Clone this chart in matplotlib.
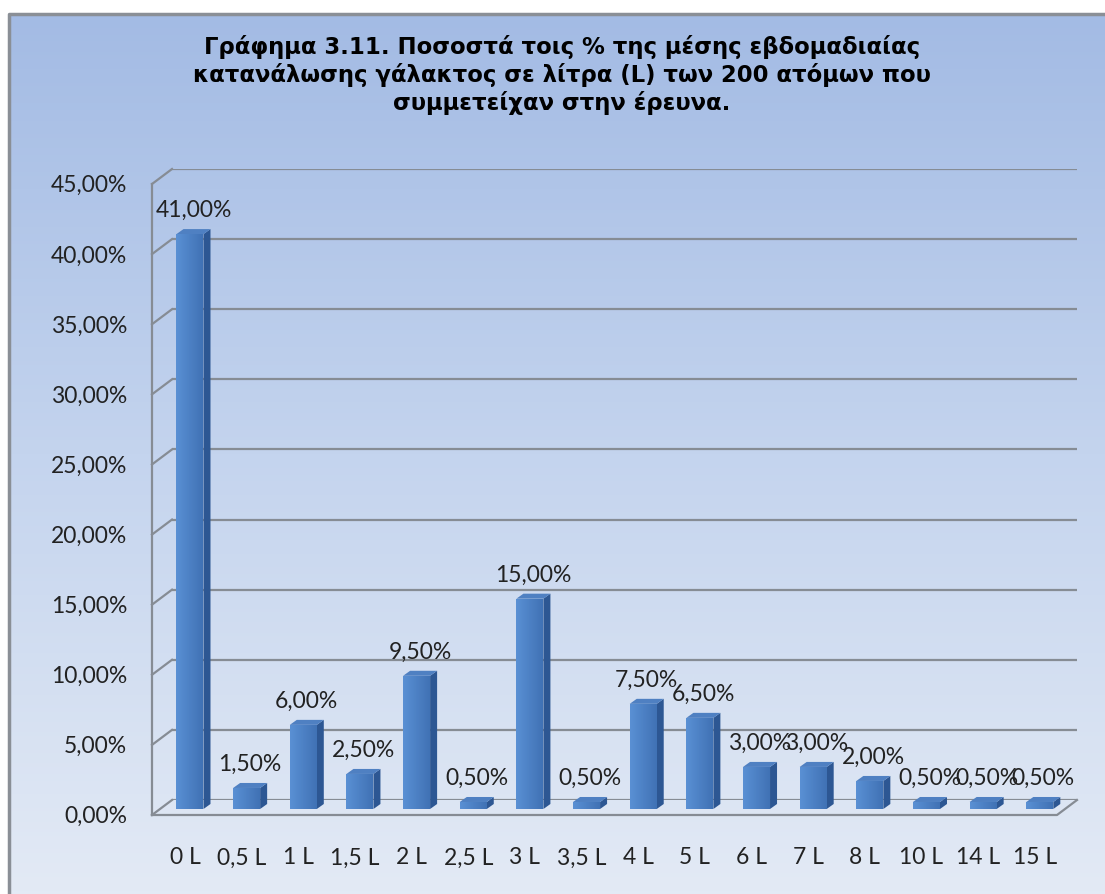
import numpy as np
import matplotlib.pyplot as plt
from matplotlib.patches import Polygon
from matplotlib.colors import LinearSegmentedColormap

# weekly milk consumption (litres) and share of the 200 respondents
categories = ['0 L', '0,5 L', '1 L', '1,5 L', '2 L', '2,5 L', '3 L', '3,5 L',
              '4 L', '5 L', '6 L', '7 L', '8 L', '10 L', '14 L', '15 L']
percentages = [41.0, 1.5, 6.0, 2.5, 9.5, 0.5, 15.0, 0.5,
               7.5, 6.5, 3.0, 3.0, 2.0, 0.5, 0.5, 0.5]
y_ticks = [0, 5, 10, 15, 20, 25, 30, 35, 40, 45]

title_lines = ['Γράφημα 3.11. Ποσοστά τοις % της μέσης εβδομαδιαίας',
               'κατανάλωσης γάλακτος σε λίτρα (L) των 200 ατόμων που',
               'συμμετείχαν στην έρευνα.']

W, H = 1105, 894
fig = plt.figure(figsize=(W / 100, H / 100), dpi=100)
fig.patch.set_facecolor('white')

# chart area background: vertical blue gradient with a grey frame
bg = fig.add_axes([9 / W, 0, 1 - 9 / W, 1 - 14 / H])
bg.set_axis_off()
grad_cmap = LinearSegmentedColormap.from_list('bg', ['#a3bbe4', '#c4d4ee', '#e3eaf5'])
bg.imshow(np.linspace(0, 1, 256).reshape(-1, 1), cmap=grad_cmap, aspect='auto',
          extent=[0, 1, 0, 1])
bg.set_xlim(0, 1)
bg.set_ylim(0, 1)
bg.plot([0, 0, 1], [0, 1, 1], color='#8a8f96', lw=2.5, clip_on=False)

def pct(v):
    return f'{v:.2f}'.replace('.', ',') + '%'

lab_font = dict(fontsize=16.5, family='Lato', color='#222222')

# back wall of the plot area
ax = fig.add_axes([172 / W, 1 - 800 / H, (1077 - 172) / W, (800 - 169) / H])
ax.set_xlim(-0.494, 15.48)
ax.set_ylim(0, 45)
ax.set_axis_off()

x0, x1 = ax.get_xlim()
px_x = (1077 - 172) / (x1 - x0)
px_y = (800 - 169) / 45
DX, DY = 20 / px_x, 15 / px_y          # depth of the floor / side wall
grid_c = '#868c94'

for t in y_ticks:
    ax.plot([x0, x1], [t, t], color=grid_c, lw=1.6, zorder=1)
    ax.plot([x0 - DX, x0], [t - DY, t], color=grid_c, lw=1.6, zorder=1, clip_on=False)
    ax.text(x0 - DX - 25 / px_x, t - 1.2, pct(t), ha='right', va='center', **lab_font)

# left wall and floor edges
ax.plot([x0 - DX, x0 - DX], [-DY, 45 - DY], color=grid_c, lw=1.6, clip_on=False)
ax.plot([x0 - DX, x1 - DX, x1], [-DY, -DY, 0], color=grid_c, lw=1.6, clip_on=False)

# pseudo-3D bars
xs = np.arange(len(categories))
bw = 27 / px_x
bx = xs - 10 / px_x
base = -9 / px_y
ddx, ddy = 7 / px_x, 5 / px_y

bars = ax.bar(bx, percentages, width=bw, bottom=base, color='#4a7fc1',
              edgecolor='none', zorder=3, clip_on=False)
front_cmap = LinearSegmentedColormap.from_list('front', ['#5a90d4', '#4072b5'])
for b in bars:
    l, r = b.get_x(), b.get_x() + b.get_width()
    bot, top = b.get_y(), b.get_y() + b.get_height()
    im = ax.imshow(np.linspace(0, 1, 64).reshape(1, -1), cmap=front_cmap,
                   extent=[l, r, bot, top], aspect='auto', zorder=3.5)
    im.set_clip_path(b)
    ax.add_patch(Polygon([(r, bot), (r + ddx, bot + ddy), (r + ddx, top + ddy), (r, top)],
                         closed=True, fc='#2d5793', ec='none', zorder=3, clip_on=False))
    ax.add_patch(Polygon([(l, top), (r, top), (r + ddx, top + ddy), (l + ddx, top + ddy)],
                         closed=True, fc='#4f80c2', ec='none', zorder=3, clip_on=False))

ax.set_xlim(x0, x1)
ax.set_ylim(0, 45)

for xc, v in zip(bx, percentages):
    ax.text(xc + ddx / 2, base + v + ddy + 12 / px_y, pct(v), ha='center', va='baseline',
            zorder=5, clip_on=False, **lab_font)

for x, lab in zip(xs, categories):
    ax.text(x - 15 / px_x, -58 / px_y, lab, ha='center', va='center',
            clip_on=False, **lab_font)

for i, line in enumerate(title_lines):
    fig.text(562 / W, 1 - (47 + 28 * i) / H, line, ha='center', va='center',
             fontsize=16.4, fontweight='bold', family=['DejaVu Sans'], color='black')

fig.savefig('out.png', dpi=100)
